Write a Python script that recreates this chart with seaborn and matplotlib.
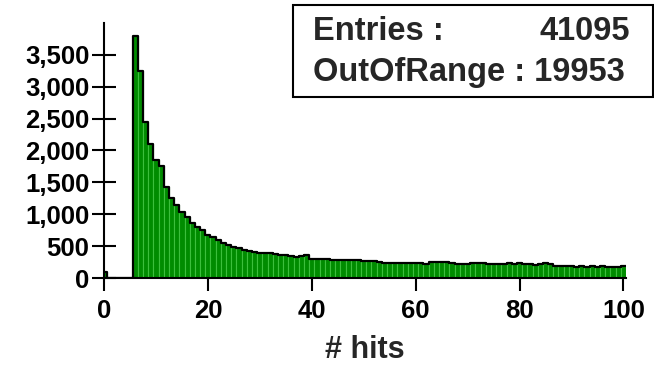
import numpy as np
import pandas as pd
import matplotlib
matplotlib.use("Agg")
import matplotlib.pyplot as plt
import matplotlib.patches as mpatches
from matplotlib.ticker import StrMethodFormatter
import seaborn as sns

# ---- data ----
hits = list(range(0, 101))
counts = (
    [100, 0, 0, 0, 0, 0]
    + [3800, 3250, 2450, 2100]
    + [1850, 1750, 1420, 1250, 1150, 1040, 960, 870, 800, 750]
    + [680, 650, 600, 550, 520, 480, 470, 440, 420, 415]
    + [400, 390, 385, 370, 360, 355, 345, 335, 340, 360]
    + [300, 300, 295, 300, 290, 285, 290, 280, 285, 275]
    + [270, 265, 260, 245, 240, 240, 235, 240, 235, 230]
    + [235, 230, 225, 245, 250, 250, 245, 240, 220, 220]
    + [225, 235, 230, 235, 220, 220, 215, 220, 235, 225]
    + [235, 215, 215, 210, 215, 230, 225, 185, 190, 185]
    + [195, 180, 190, 180, 185, 180, 190, 175, 180, 175, 185]
)
x_ticks = [0, 20, 40, 60, 80, 100]
y_ticks = [0, 500, 1000, 1500, 2000, 2500, 3000, 3500]
stats_labels = ["Entries :", "OutOfRange :"]
stats_values = ["41095", "19953"]

df = pd.DataFrame({"hits": hits, "count": counts})

sns.set_style("ticks")
plt.rcParams["font.family"] = ["Liberation Sans", "DejaVu Sans"]
plt.rcParams["font.weight"] = "bold"

fig = plt.figure(figsize=(6.54, 3.75), dpi=100)
ax = fig.add_axes([104 / 654, 97 / 375, (626 - 104) / 654, (278 - 23) / 375])

sns.histplot(data=df, x="hits", weights="count", binwidth=1,
             binrange=(-0.5, 100.5), ax=ax,
             color="#008c00", alpha=1.0, edgecolor="#3cbf3c", linewidth=0.8)
sns.histplot(data=df, x="hits", weights="count", binwidth=1,
             binrange=(-0.5, 100.5), ax=ax,
             element="step", fill=False, color="black", linewidth=1.6)

ax.set_xlim(0, 100.5)
ax.set_ylim(0, 4000)
ax.set_xticks(x_ticks)
ax.set_yticks(y_ticks)
ax.yaxis.set_major_formatter(StrMethodFormatter("{x:,.0f}"))
for s in ["top", "right"]:
    ax.spines[s].set_visible(False)
for s in ["left", "bottom"]:
    ax.spines[s].set_linewidth(1.5)
    ax.spines[s].set_color("black")
ax.tick_params(axis="y", direction="inout", length=17, width=1.5, pad=2,
               labelsize=18.5, colors="black")
ax.tick_params(axis="x", direction="out", length=9, width=1.5, pad=6,
               labelsize=18.5, colors="black")
for lab in ax.get_xticklabels() + ax.get_yticklabels():
    lab.set_fontweight("bold")
ax.set_ylabel("")
ax.set_xlabel("# hits", fontsize=22, fontweight="bold", labelpad=9)

# stats box
rect = mpatches.Rectangle((293 / 654, 1 - 97 / 375), (653 - 293) / 654,
                          (97 - 5) / 375, transform=fig.transFigure,
                          facecolor="white", edgecolor="black", linewidth=1.5,
                          zorder=5)
fig.patches.append(rect)
ys = [1 - 31 / 375, 1 - 72 / 375]
fig.text(313 / 654, ys[0], stats_labels[0], ha="left", va="center",
         fontsize=23.5, fontweight="bold", zorder=6)
fig.text(630 / 654, ys[0], stats_values[0], ha="right", va="center",
         fontsize=23.5, fontweight="bold", zorder=6)
fig.text(313 / 654, ys[1], stats_labels[1] + " " + stats_values[1], ha="left",
         va="center", fontsize=23.5, fontweight="bold", zorder=6)

fig.savefig("out.png", dpi=100)
